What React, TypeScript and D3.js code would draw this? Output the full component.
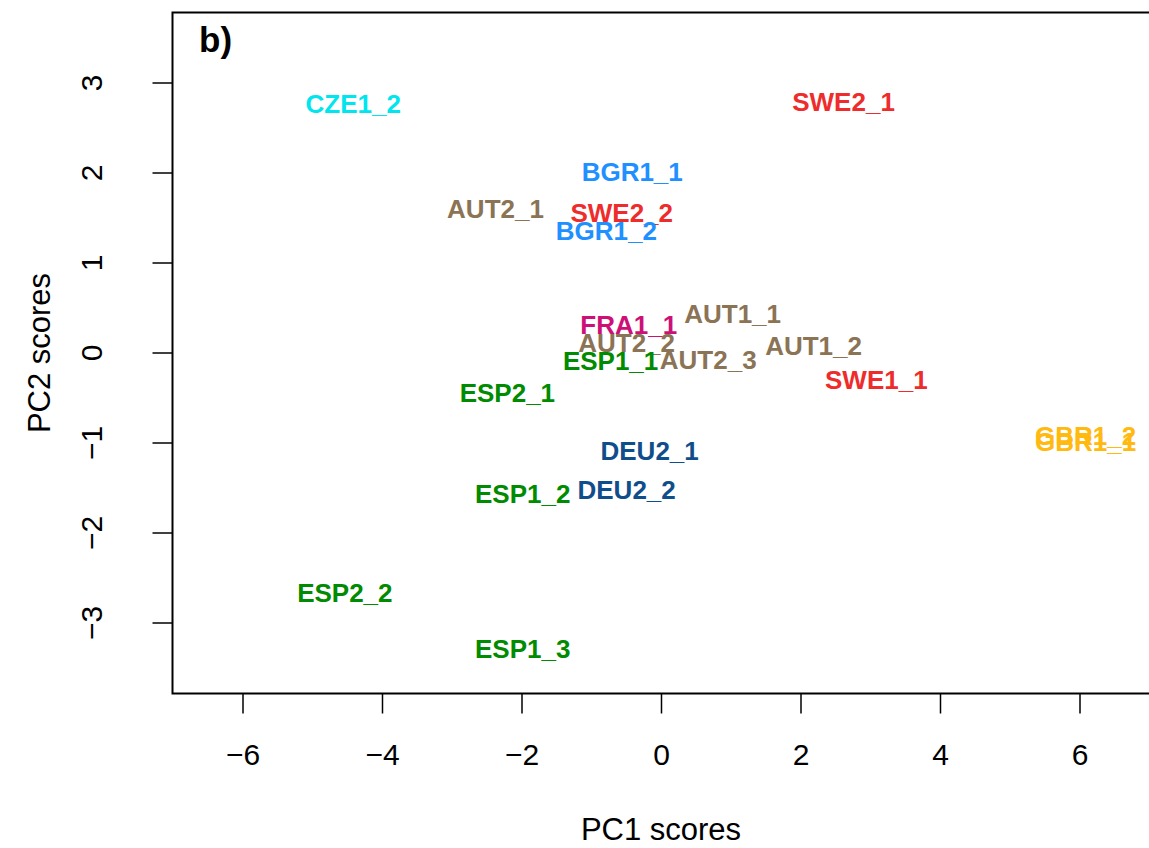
import React from "react";
import * as d3 from "d3";

const labels = ["CZE1_2","SWE2_1","BGR1_1","AUT2_1","SWE2_2","BGR1_2","FRA1_1","AUT1_1","AUT2_2","AUT1_2","AUT2_3","ESP1_1","SWE1_1","ESP2_1","GBR1_2","GBR1_1","DEU2_1","ESP1_2","DEU2_2","ESP2_2","ESP1_3"];
const pc1 = [-4.42, 2.61, -0.42, -2.38, -0.57, -0.79, -0.47, 1.02, -0.50, 2.18, 0.67, -0.73, 3.08, -2.21, 6.08, 6.08, -0.17, -1.99, -0.50, -4.54, -1.99];
const pc2 = [2.77, 2.79, 2.01, 1.60, 1.56, 1.36, 0.32, 0.44, 0.12, 0.08, -0.07, -0.09, -0.30, -0.44, -0.92, -0.99, -1.09, -1.56, -1.52, -2.66, -3.28];
const groups = ["CZE","SWE","BGR","AUT","SWE","BGR","FRA","AUT","AUT","AUT","AUT","ESP","SWE","ESP","GBR","GBR","DEU","ESP","DEU","ESP","ESP"];
const groupNames = ["CZE","SWE","BGR","AUT","FRA","ESP","GBR","DEU"];
const groupColors = ["#00E5EE","#EE2C2C","#1E90FF","#8B7355","#CD1076","#008B00","#FFB90F","#104E8B"];
const xTicks = [-6,-4,-2,0,2,4,6];
const yTicks = [-3,-2,-1,0,1,2,3];

export default function App() {
  const W = 1149, H = 848;
  const left = 172.5, top = 12.5, bottom = 693.5, right = 1160;
  const x = d3.scaleLinear().domain([-6, 6]).range([243, 1080]);
  const y = d3.scaleLinear().domain([-3, 3]).range([623, 83]);
  const color = d3.scaleOrdinal<string, string>().domain(groupNames).range(groupColors);
  const font = "Liberation Sans, Arial, Helvetica, sans-serif";
  const fmt = (t: number) => (t < 0 ? "\u2212" + Math.abs(t) : String(t));
  return (
    <svg width={W} height={H} style={{ position: "absolute", left: 0, top: 0, background: "#fff" }} fontFamily={font}>
      <rect x={left} y={top} width={right - left} height={bottom - top} fill="none" stroke="#000" strokeWidth={2} />
      {xTicks.map(t => (
        <g key={"x" + t}>
          <line x1={x(t)} x2={x(t)} y1={bottom} y2={bottom + 20} stroke="#000" strokeWidth={1.5} />
          <text x={x(t)} y={765} textAnchor="middle" fontSize={30}>{fmt(t)}</text>
        </g>
      ))}
      {yTicks.map(t => (
        <g key={"y" + t}>
          <line x1={left - 20} x2={left} y1={y(t)} y2={y(t)} stroke="#000" strokeWidth={1.5} />
          <text transform={`translate(102,${y(t)}) rotate(-90)`} textAnchor="middle" fontSize={30}>{fmt(t)}</text>
        </g>
      ))}
      <text x={661} y={840} textAnchor="middle" fontSize={31}>PC1 scores</text>
      <text transform={`translate(50,353) rotate(-90)`} textAnchor="middle" fontSize={31}>PC2 scores</text>
      <text x={199} y={52} fontSize={35} fontWeight="bold">b)</text>
      {labels.map((l, i) => (
        <text key={l} x={x(pc1[i])} y={y(pc2[i])} dy="0.36em" textAnchor="middle" fontSize={26} fontWeight="bold" fill={color(groups[i])}>{l}</text>
      ))}
    </svg>
  );
}
